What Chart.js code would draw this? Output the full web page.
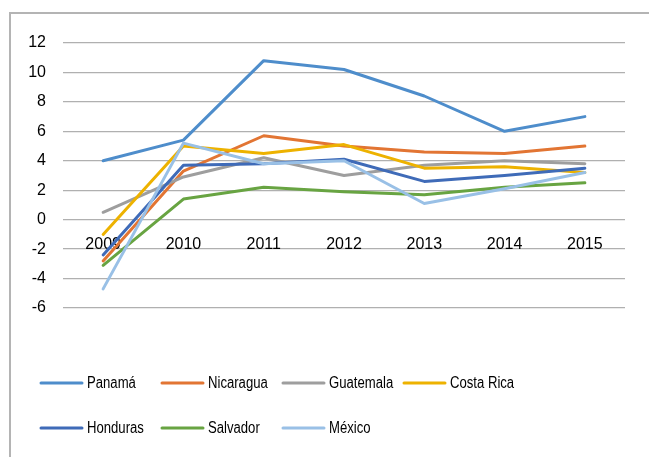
<!DOCTYPE html>
<html>
<head>
<meta charset="utf-8">
<script src="https://cdn.jsdelivr.net/npm/chart.js@4"></script>
<style>
  html, body { margin: 0; padding: 0; background: #fff; }
  #chart { display: block; }
</style>
</head>
<body>
<canvas id="chart" width="649" height="457"></canvas>
<script>
// data
const years = ['2009', '2010', '2011', '2012', '2013', '2014', '2015'];
const panama = [4.0, 5.4, 10.8, 10.2, 8.4, 6.0, 7.0];
const nicaragua = [-2.8, 3.3, 5.7, 5.0, 4.6, 4.5, 5.0];
const guatemala = [0.5, 2.9, 4.2, 3.0, 3.7, 4.0, 3.8];
const costaRica = [-1.0, 5.0, 4.5, 5.1, 3.5, 3.6, 3.2];
const honduras = [-2.4, 3.7, 3.8, 4.1, 2.6, 3.0, 3.5];
const salvador = [-3.1, 1.4, 2.2, 1.9, 1.7, 2.2, 2.5];
const mexico = [-4.7, 5.2, 3.8, 4.0, 1.1, 2.1, 3.2];

const seriesNames = ['Panamá', 'Nicaragua', 'Guatemala', 'Costa Rica', 'Honduras', 'Salvador', 'México'];
const seriesData = [panama, nicaragua, guatemala, costaRica, honduras, salvador, mexico];
const seriesColors = ['#4E8DCB', '#E27533', '#9E9E9E', '#EDB200', '#3F6BB8', '#68A442', '#99C0E6'];

const yTicks = [-6, -4, -2, 0, 2, 4, 6, 8, 10, 12];

const axisFont = "'Liberation Sans', Arial, sans-serif";

// frame of the chart box (only top and left edges are visible in the crop)
const framePlugin = {
    id: 'frame',
    beforeDraw(chart) {
        const ctx = chart.ctx;
        ctx.save();
        ctx.strokeStyle = '#b4b4b4';
        ctx.lineWidth = 2;
        ctx.beginPath();
        ctx.moveTo(10, chart.height);
        ctx.lineTo(10, 13);
        ctx.lineTo(chart.width, 13);
        ctx.stroke();
        ctx.restore();
    }
};

// Excel-like legend: fixed columns, left aligned, 4 per row, narrow text
const gridLegend = {
    id: 'gridLegend',
    afterDraw(chart) {
        const ctx = chart.ctx;
        const colW = 121, x0 = 40, rowY = [383, 428];
        ctx.save();
        ctx.font = '16px ' + axisFont;
        ctx.textBaseline = 'middle';
        ctx.textAlign = 'left';
        chart.data.datasets.forEach((ds, i) => {
            const x = x0 + (i % 4) * colW;
            const y = rowY[Math.floor(i / 4)];
            ctx.strokeStyle = ds.borderColor;
            ctx.lineWidth = 3;
            ctx.lineCap = 'round';
            ctx.beginPath();
            ctx.moveTo(x + 1, y);
            ctx.lineTo(x + 42, y);
            ctx.stroke();
            ctx.save();
            ctx.translate(x + 47, y + 1);
            ctx.scale(0.82, 1);
            ctx.fillStyle = '#000';
            ctx.fillText(ds.label, 0, 0);
            ctx.restore();
        });
        ctx.restore();
    }
};

new Chart(document.getElementById('chart'), {
    type: 'line',
    data: {
        labels: years,
        datasets: seriesNames.map((name, i) => ({
            label: name,
            data: seriesData[i],
            borderColor: seriesColors[i],
            backgroundColor: seriesColors[i],
            borderWidth: 3,
            pointRadius: 0,
            tension: 0,
            borderCapStyle: 'round',
            borderJoinStyle: 'round',
            order: seriesNames.length - i
        }))
    },
    options: {
        responsive: false,
        animation: false,
        layout: { padding: { left: 10, right: 24, top: 43, bottom: 149 } },
        plugins: {
            legend: { display: false },
            tooltip: { enabled: false }
        },
        scales: {
            x: {
                position: { y: 0 },
                offset: true,
                grid: { display: false, drawTicks: false },
                border: { display: false },
                ticks: {
                    color: '#000',
                    font: { family: axisFont, size: 16 },
                    padding: 15,
                    maxRotation: 0
                }
            },
            y: {
                min: -6,
                max: 12,
                afterFit(scale) { scale.width = 53; },
                afterBuildTicks(scale) { scale.ticks = yTicks.map(v => ({ value: v })); },
                grid: { color: '#b0b0b0', lineWidth: 1.3, drawTicks: false },
                border: { display: false },
                ticks: {
                    color: '#000',
                    font: { family: axisFont, size: 16 },
                    padding: 17
                }
            }
        }
    },
    plugins: [framePlugin, gridLegend]
});
</script>
</body>
</html>
